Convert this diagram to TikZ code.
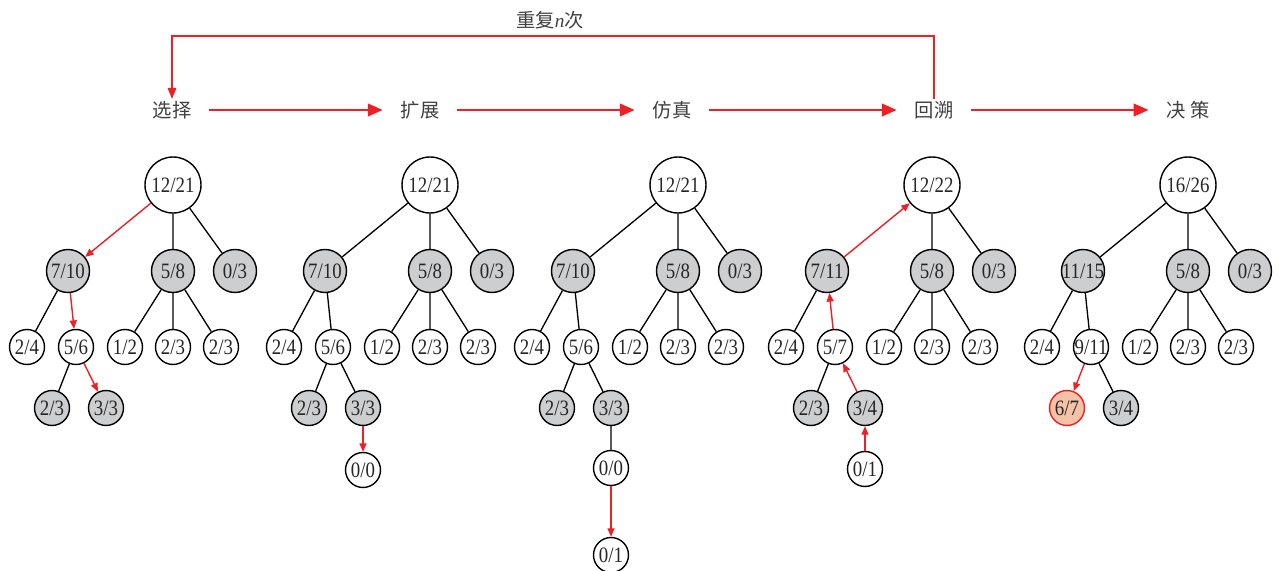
\documentclass[tikz,border=0pt]{standalone}
\usepackage{fontspec}
\setmainfont{Liberation Serif}
\newfontfamily\cjk{Noto Sans CJK SC}
\newfontfamily\countfont[FakeStretch=0.86]{Liberation Serif}
\usetikzlibrary{positioning, arrows.meta}

\definecolor{mctsred}{RGB}{237,32,36}
\definecolor{visitgray}{RGB}{205,206,208}
\definecolor{pickorange}{RGB}{243,194,167}

\tikzset{
  % tree nodes
  treenode/.style={circle, draw, line width=0.8pt, inner sep=-5pt,
    text=black!85, font=\countfont\fontsize{12.5}{14}\selectfont},
  bignode/.style={treenode, minimum size=1.12cm},
  midnode/.style={treenode, minimum size=0.86cm},
  smallnode/.style={treenode, minimum size=0.7cm},
  visited/.style={fill=visitgray},
  picked/.style={fill=pickorange, draw=mctsred},
  % connectors
  tline/.style={line width=0.75pt},
  redarrow/.style={draw=mctsred, line width=0.8pt,
    -{Triangle[length=0.17cm, width=0.14cm]}},
  stagearrow/.style={draw=mctsred, line width=1.5pt,
    -{Triangle[length=0.3cm, width=0.25cm]}},
  looparrow/.style={draw=mctsred, line width=0.8pt,
    -{Triangle[length=0.22cm, width=0.17cm]}},
  stage/.style={inner xsep=10pt, inner ysep=1pt, text=black!75,
    font=\cjk\fontsize{11}{13}\selectfont}
}

\begin{document}
\begin{tikzpicture}[x=0.02cm, y=-0.02cm]
  \useasboundingbox (0,0) rectangle (1279,571);

  % stages
  \node[stage] (sel) at (172,110) {选择};
  \node[stage] (exp) at (420,110) {扩展};
  \node[stage] (sim) at (672,110) {仿真};
  \node[stage] (back) at (934,110) {回溯};
  \node[stage] (dec) at (1188,110) {决 策};

  \draw[stagearrow] (sel) -- (exp);
  \draw[stagearrow] (exp) -- (sim);
  \draw[stagearrow] (sim) -- (back);
  \draw[stagearrow] (back) -- (dec);

  % repeat loop
  \coordinate (looptop) at (550,36);
  \draw[looparrow] (back.north) -- (back.north |- looptop) -| (sel.north);
  \node[stage, inner xsep=0pt] (rep) at (550,20) {重复{\rmfamily\itshape n}次};

  % selection
  \begin{scope}[shift={(173,0)}]
    \node[bignode] (a0) at (0,185) {12/21};
    \node[midnode, visited] (a1) at (-105,271) {7/10};
    \node[midnode, visited] (a2) at (0,271) {5/8};
    \node[midnode, visited] (a3) at (62,271) {0/3};
    \node[smallnode] (a11) at (-146,347) {2/4};
    \node[smallnode] (a12) at (-97,347) {5/6};
    \node[smallnode] (a21) at (-48,347) {1/2};
    \node[smallnode] (a22) at (0,347) {2/3};
    \node[smallnode] (a23) at (48,347) {2/3};
    \node[smallnode, visited] (a121) at (-121,408) {2/3};
    \node[smallnode, visited] (a122) at (-67,408) {3/3};

    \draw[tline] (a0) -- (a2) (a0) -- (a3) (a1) -- (a11)
      (a2) -- (a21) (a2) -- (a22) (a2) -- (a23) (a12) -- (a121);
    \draw[redarrow] (a0) -- (a1);
    \draw[redarrow] (a1) -- (a12);
    \draw[redarrow] (a12) -- (a122);
  \end{scope}

  % expansion
  \begin{scope}[shift={(430,0)}]
    \node[bignode] (b0) at (0,185) {12/21};
    \node[midnode, visited] (b1) at (-105,271) {7/10};
    \node[midnode, visited] (b2) at (0,271) {5/8};
    \node[midnode, visited] (b3) at (62,271) {0/3};
    \node[smallnode] (b11) at (-146,347) {2/4};
    \node[smallnode] (b12) at (-97,347) {5/6};
    \node[smallnode] (b21) at (-48,347) {1/2};
    \node[smallnode] (b22) at (0,347) {2/3};
    \node[smallnode] (b23) at (48,347) {2/3};
    \node[smallnode, visited] (b121) at (-121,408) {2/3};
    \node[smallnode, visited] (b122) at (-67,408) {3/3};
    \node[smallnode] (b1221) at (-67,470) {0/0};

    \draw[tline] (b0) -- (b1) (b0) -- (b2) (b0) -- (b3) (b1) -- (b11)
      (b1) -- (b12) (b2) -- (b21) (b2) -- (b22) (b2) -- (b23)
      (b12) -- (b121) (b12) -- (b122);
    \draw[redarrow] (b122) -- (b1221);
  \end{scope}

  % simulation
  \begin{scope}[shift={(678,0)}]
    \node[bignode] (c0) at (0,185) {12/21};
    \node[midnode, visited] (c1) at (-105,271) {7/10};
    \node[midnode, visited] (c2) at (0,271) {5/8};
    \node[midnode, visited] (c3) at (62,271) {0/3};
    \node[smallnode] (c11) at (-146,347) {2/4};
    \node[smallnode] (c12) at (-97,347) {5/6};
    \node[smallnode] (c21) at (-48,347) {1/2};
    \node[smallnode] (c22) at (0,347) {2/3};
    \node[smallnode] (c23) at (48,347) {2/3};
    \node[smallnode, visited] (c121) at (-121,408) {2/3};
    \node[smallnode, visited] (c122) at (-67,408) {3/3};
    \node[smallnode] (c1221) at (-67,468) {0/0};
    \node[smallnode] (c1222) at (-67,555) {0/1};

    \draw[tline] (c0) -- (c1) (c0) -- (c2) (c0) -- (c3) (c1) -- (c11)
      (c1) -- (c12) (c2) -- (c21) (c2) -- (c22) (c2) -- (c23)
      (c12) -- (c121) (c12) -- (c122) (c122) -- (c1221);
    \draw[redarrow] (c1221) -- (c1222);
  \end{scope}

  % backpropagation
  \begin{scope}[shift={(932,0)}]
    \node[bignode] (d0) at (0,185) {12/22};
    \node[midnode, visited] (d1) at (-105,271) {7/11};
    \node[midnode, visited] (d2) at (0,271) {5/8};
    \node[midnode, visited] (d3) at (62,271) {0/3};
    \node[smallnode] (d11) at (-146,347) {2/4};
    \node[smallnode] (d12) at (-97,347) {5/7};
    \node[smallnode] (d21) at (-48,347) {1/2};
    \node[smallnode] (d22) at (0,347) {2/3};
    \node[smallnode] (d23) at (48,347) {2/3};
    \node[smallnode, visited] (d121) at (-121,408) {2/3};
    \node[smallnode, visited] (d122) at (-67,408) {3/4};
    \node[smallnode] (d1221) at (-67,469) {0/1};

    \draw[tline] (d0) -- (d2) (d0) -- (d3) (d1) -- (d11)
      (d2) -- (d21) (d2) -- (d22) (d2) -- (d23) (d12) -- (d121);
    \draw[redarrow] (d1221) -- (d122);
    \draw[redarrow] (d122) -- (d12);
    \draw[redarrow] (d12) -- (d1);
    \draw[redarrow] (d1) -- (d0);
  \end{scope}

  % decision
  \begin{scope}[shift={(1188,0)}]
    \node[bignode] (e0) at (0,185) {16/26};
    \node[midnode, visited] (e1) at (-105,271) {11/15};
    \node[midnode, visited] (e2) at (0,271) {5/8};
    \node[midnode, visited] (e3) at (62,271) {0/3};
    \node[smallnode] (e11) at (-146,347) {2/4};
    \node[smallnode] (e12) at (-97,347) {9/11};
    \node[smallnode] (e21) at (-48,347) {1/2};
    \node[smallnode] (e22) at (0,347) {2/3};
    \node[smallnode] (e23) at (48,347) {2/3};
    \node[smallnode, picked] (e121) at (-121,408) {6/7};
    \node[smallnode, visited] (e122) at (-67,408) {3/4};

    \draw[tline] (e0) -- (e1) (e0) -- (e2) (e0) -- (e3) (e1) -- (e11)
      (e1) -- (e12) (e2) -- (e21) (e2) -- (e22) (e2) -- (e23)
      (e12) -- (e122);
    \draw[redarrow] (e12) -- (e121);
  \end{scope}
\end{tikzpicture}
\end{document}
